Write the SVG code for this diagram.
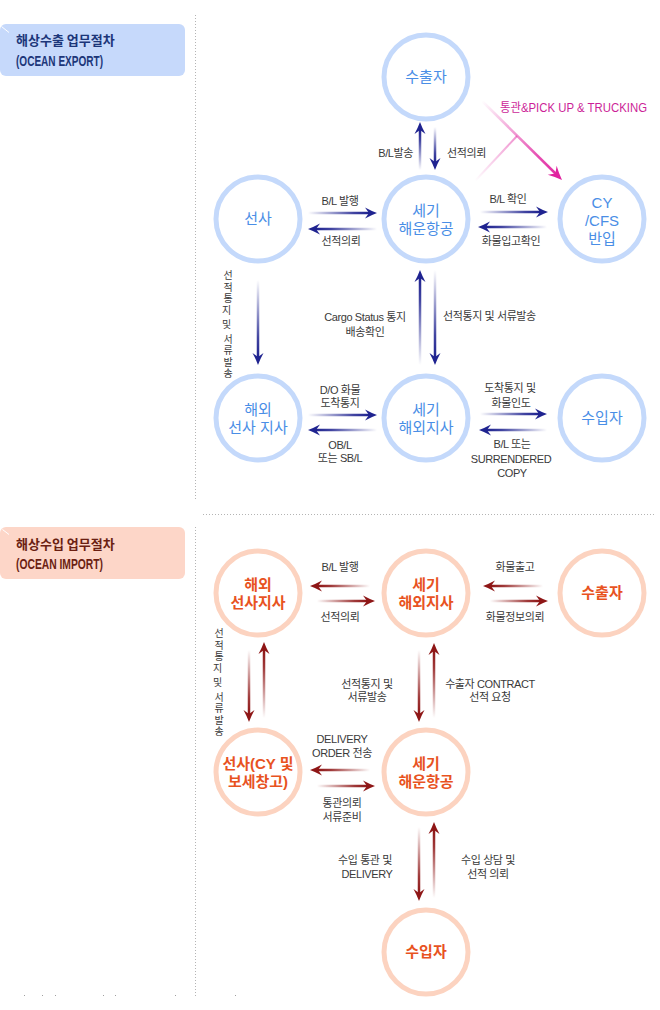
<svg xmlns="http://www.w3.org/2000/svg" xmlns:xlink="http://www.w3.org/1999/xlink" width="660" height="1010" viewBox="0 0 660 1010">
<style>
.ring{fill:#fff;stroke-width:5}
.ex .ring{stroke:#c4d9fb}
.im .ring{stroke:#fcd3c0}
.nt{font-family:"Liberation Sans","Noto Sans CJK KR",sans-serif;font-size:15px;text-anchor:middle}
.ex .nt{fill:#4a8ee6}
.im .nt{fill:#e8531f;font-weight:bold}
.lb{font-family:"Liberation Sans","Noto Sans CJK KR",sans-serif;font-size:11px;fill:#3a3a3a;letter-spacing:-0.4px}
.c{text-anchor:middle}
.e{text-anchor:end}
.vt{font-family:"Liberation Sans","Noto Sans CJK KR",sans-serif;font-size:10px;fill:#3a3a3a;text-anchor:middle}
.hd1{font-family:"Noto Sans CJK KR",sans-serif;font-size:13px;font-weight:bold}
.hd2{font-family:"Liberation Sans",sans-serif;font-size:14px;font-weight:bold}
.dot{stroke:#b4b4b4;stroke-width:1;stroke-dasharray:1 2;fill:none}
.nav{fill:#1f2390}
.red{fill:#8e1616}
</style>
<defs>
<path id="ah" d="M0,0 Q-6,-2.2 -12,-5.5 L-8,0 L-12,5.5 Q-6,2.2 0,0 Z"/>
<linearGradient id="bR" x1="0" y1="0" x2="1" y2="0"><stop offset="0" stop-color="#1f2390" stop-opacity="0"/><stop offset="0.75" stop-color="#1f2390" stop-opacity="0.85"/><stop offset="1" stop-color="#1f2390"/></linearGradient>
<linearGradient id="bL" x1="1" y1="0" x2="0" y2="0"><stop offset="0" stop-color="#1f2390" stop-opacity="0"/><stop offset="0.75" stop-color="#1f2390" stop-opacity="0.85"/><stop offset="1" stop-color="#1f2390"/></linearGradient>
<linearGradient id="bD" x1="0" y1="0" x2="0" y2="1"><stop offset="0" stop-color="#1f2390" stop-opacity="0"/><stop offset="0.75" stop-color="#1f2390" stop-opacity="0.85"/><stop offset="1" stop-color="#1f2390"/></linearGradient>
<linearGradient id="bU" x1="0" y1="1" x2="0" y2="0"><stop offset="0" stop-color="#1f2390" stop-opacity="0"/><stop offset="0.75" stop-color="#1f2390" stop-opacity="0.85"/><stop offset="1" stop-color="#1f2390"/></linearGradient>
<linearGradient id="rR" x1="0" y1="0" x2="1" y2="0"><stop offset="0" stop-color="#8e1616" stop-opacity="0"/><stop offset="0.75" stop-color="#8e1616" stop-opacity="0.85"/><stop offset="1" stop-color="#8e1616"/></linearGradient>
<linearGradient id="rL" x1="1" y1="0" x2="0" y2="0"><stop offset="0" stop-color="#8e1616" stop-opacity="0"/><stop offset="0.75" stop-color="#8e1616" stop-opacity="0.85"/><stop offset="1" stop-color="#8e1616"/></linearGradient>
<linearGradient id="rD" x1="0" y1="0" x2="0" y2="1"><stop offset="0" stop-color="#8e1616" stop-opacity="0"/><stop offset="0.75" stop-color="#8e1616" stop-opacity="0.85"/><stop offset="1" stop-color="#8e1616"/></linearGradient>
<linearGradient id="rU" x1="0" y1="1" x2="0" y2="0"><stop offset="0" stop-color="#8e1616" stop-opacity="0"/><stop offset="0.75" stop-color="#8e1616" stop-opacity="0.85"/><stop offset="1" stop-color="#8e1616"/></linearGradient>
<linearGradient id="mg" gradientUnits="userSpaceOnUse" x1="482" y1="101" x2="562" y2="180"><stop offset="0" stop-color="#e0239f" stop-opacity="0"/><stop offset="0.7" stop-color="#e0239f" stop-opacity="0.8"/><stop offset="1" stop-color="#e0239f"/></linearGradient>
<linearGradient id="mg2" gradientUnits="userSpaceOnUse" x1="517" y1="136" x2="475" y2="181"><stop offset="0" stop-color="#e0239f" stop-opacity="0.5"/><stop offset="1" stop-color="#e0239f" stop-opacity="0"/></linearGradient>
</defs>

<g id="frame">
<line class="dot" x1="195.5" y1="15" x2="195.5" y2="500"/>
<line class="dot" x1="203" y1="514.5" x2="656" y2="514.5"/>
<line class="dot" x1="195.5" y1="527" x2="195.5" y2="997"/>
<g fill="#a0a0a0"><rect x="24" y="995" width="1" height="1"/><rect x="42" y="995" width="1" height="1"/><rect x="55" y="995" width="1" height="1"/><rect x="103" y="995" width="1" height="1"/><rect x="115" y="995" width="1" height="1"/><rect x="175" y="995" width="1" height="1"/><rect x="235" y="995" width="1" height="1"/></g>
</g>

<g id="header-export">
<rect x="0" y="24" width="185" height="52" rx="6" fill="#c6d9fb"/>
<line x1="1.5" y1="26.5" x2="9" y2="32.5" stroke="#fff" stroke-width="1"/>
<text class="hd1" x="16" y="45" fill="#1c3679">해상수출 업무절차</text>
<text class="hd2" x="16" y="66" fill="#1c3679" textLength="87" lengthAdjust="spacingAndGlyphs">(OCEAN EXPORT)</text>
</g>
<g id="header-import">
<rect x="0" y="527" width="185" height="52" rx="6" fill="#fdd6c8"/>
<line x1="2.5" y1="529.5" x2="9" y2="534.5" stroke="#fff" stroke-width="1"/>
<text class="hd1" x="16" y="549" fill="#6b1f12">해상수입 업무절차</text>
<text class="hd2" x="16" y="569" fill="#6b1f12" textLength="87" lengthAdjust="spacingAndGlyphs">(OCEAN IMPORT)</text>
</g>

<g id="connectors">
<g class="nav">
<rect x="418.75" y="130" width="2.5" height="40" fill="url(#bU)"/><use xlink:href="#ah" transform="translate(420,122) rotate(-90)"/>
<rect x="433.75" y="127" width="2.5" height="35" fill="url(#bD)"/><use xlink:href="#ah" transform="translate(435,170) rotate(90)"/>
<rect x="308" y="211.75" width="61" height="2.5" fill="url(#bR)"/><use xlink:href="#ah" transform="translate(377,213)"/>
<rect x="316" y="227.75" width="61" height="2.5" fill="url(#bL)"/><use xlink:href="#ah" transform="translate(308,229) rotate(180)"/>
<rect x="480" y="210.75" width="60" height="2.5" fill="url(#bR)"/><use xlink:href="#ah" transform="translate(548,212)"/>
<rect x="486" y="225.75" width="61" height="2.5" fill="url(#bL)"/><use xlink:href="#ah" transform="translate(478,227) rotate(180)"/>
<rect x="256.75" y="280" width="2.5" height="77" fill="url(#bD)"/><use xlink:href="#ah" transform="translate(258,365) rotate(90)"/>
<rect x="418.75" y="278" width="2.5" height="87" fill="url(#bU)"/><use xlink:href="#ah" transform="translate(420,270) rotate(-90)"/>
<rect x="433.75" y="270" width="2.5" height="87" fill="url(#bD)"/><use xlink:href="#ah" transform="translate(435,365) rotate(90)"/>
<rect x="308" y="413.75" width="61" height="2.5" fill="url(#bR)"/><use xlink:href="#ah" transform="translate(377,415)"/>
<rect x="316" y="428.75" width="61" height="2.5" fill="url(#bL)"/><use xlink:href="#ah" transform="translate(308,430) rotate(180)"/>
<rect x="480" y="412.75" width="59" height="2.5" fill="url(#bR)"/><use xlink:href="#ah" transform="translate(547,414)"/>
<rect x="487" y="428.75" width="60" height="2.5" fill="url(#bL)"/><use xlink:href="#ah" transform="translate(479,430) rotate(180)"/>
</g>
<g>
<line x1="482" y1="101" x2="556.5" y2="174.5" stroke="url(#mg)" stroke-width="2.5"/>
<line x1="517" y1="136" x2="475" y2="181" stroke="url(#mg2)" stroke-width="2"/>
<use xlink:href="#ah" fill="#e0239f" transform="translate(562,180) rotate(44.6) scale(1.15)"/>
</g>
<g class="red">
<rect x="318" y="584.75" width="52" height="2.5" fill="url(#rL)"/><use xlink:href="#ah" transform="translate(310,586) rotate(180)"/>
<rect x="317" y="599.75" width="50" height="2.5" fill="url(#rR)"/><use xlink:href="#ah" transform="translate(375,601)"/>
<rect x="491" y="584.75" width="52" height="2.5" fill="url(#rL)"/><use xlink:href="#ah" transform="translate(483,586) rotate(180)"/>
<rect x="490" y="599.75" width="50" height="2.5" fill="url(#rR)"/><use xlink:href="#ah" transform="translate(548,601)"/>
<rect x="247.75" y="650" width="2.5" height="64" fill="url(#rD)"/><use xlink:href="#ah" transform="translate(249,722) rotate(90)"/>
<rect x="262.75" y="650" width="2.5" height="68" fill="url(#rU)"/><use xlink:href="#ah" transform="translate(264,642) rotate(-90)"/>
<rect x="417.75" y="650" width="2.5" height="64" fill="url(#rD)"/><use xlink:href="#ah" transform="translate(419,722) rotate(90)"/>
<rect x="432.75" y="651" width="2.5" height="67" fill="url(#rU)"/><use xlink:href="#ah" transform="translate(434,643) rotate(-90)"/>
<rect x="318" y="768.75" width="52" height="2.5" fill="url(#rL)"/><use xlink:href="#ah" transform="translate(310,770) rotate(180)"/>
<rect x="317" y="784.75" width="50" height="2.5" fill="url(#rR)"/><use xlink:href="#ah" transform="translate(375,786)"/>
<rect x="417.75" y="827" width="2.5" height="66" fill="url(#rD)"/><use xlink:href="#ah" transform="translate(419,901) rotate(90)"/>
<rect x="432.75" y="830" width="2.5" height="68" fill="url(#rU)"/><use xlink:href="#ah" transform="translate(434,822) rotate(-90)"/>
</g>
</g>

<g id="labels">
<text class="lb e" x="413" y="157">B/L발송</text>
<text class="lb" x="447" y="157">선적의뢰</text>
<text class="lb c" x="340" y="205">B/L 발행</text>
<text class="lb c" x="341" y="245">선적의뢰</text>
<text class="lb c" x="508" y="203">B/L 확인</text>
<text class="lb c" x="511" y="245">화물입고확인</text>
<text x="500" y="112" font-family="Liberation Sans, Noto Sans CJK KR, sans-serif" font-size="12" fill="#cc1f98" textLength="147" lengthAdjust="spacingAndGlyphs">통관&amp;PICK UP &amp; TRUCKING</text>
<text class="vt"><tspan x="228" y="279">선</tspan><tspan x="228" y="290.5">적</tspan><tspan x="228" y="302">통</tspan><tspan x="228" y="313.5">지</tspan><tspan> </tspan><tspan x="228" y="328">및</tspan><tspan> </tspan><tspan x="228" y="342.5">서</tspan><tspan x="228" y="354">류</tspan><tspan x="228" y="365.5">발</tspan><tspan x="228" y="377">송</tspan></text>
<text class="lb c" x="365" y="321">Cargo Status 통지</text>
<text class="lb c" x="365" y="336">배송확인</text>
<text class="lb" x="443" y="320">선적통지 및 서류발송</text>
<text class="lb c" x="340" y="394">D/O 화물</text>
<text class="lb c" x="340" y="407">도착통지</text>
<text class="lb c" x="340" y="449">OB/L</text>
<text class="lb c" x="340" y="462">또는 SB/L</text>
<text class="lb c" x="510" y="392">도착통지 및</text>
<text class="lb c" x="511" y="407">화물인도</text>
<text class="lb c" x="512" y="448">B/L 또는</text>
<text class="lb c" x="511" y="463">SURRENDERED</text>
<text class="lb c" x="512" y="477">COPY</text>

<text class="lb c" x="340" y="571">B/L 발행</text>
<text class="lb c" x="340" y="621">선적의뢰</text>
<text class="lb c" x="515" y="571">화물출고</text>
<text class="lb c" x="515" y="621">화물정보의뢰</text>
<text class="vt"><tspan x="219" y="637">선</tspan><tspan x="219" y="648.5">적</tspan><tspan x="219" y="660">통</tspan><tspan x="219" y="671.5">지</tspan><tspan> </tspan><tspan x="219" y="686">및</tspan><tspan> </tspan><tspan x="219" y="700.5">서</tspan><tspan x="219" y="712">류</tspan><tspan x="219" y="723.5">발</tspan><tspan x="219" y="735">송</tspan></text>
<text class="lb c" x="367" y="688">선적통지 및</text>
<text class="lb c" x="367" y="701">서류발송</text>
<text class="lb c" x="490" y="688">수출자 CONTRACT</text>
<text class="lb c" x="490" y="701">선적 요청</text>
<text class="lb c" x="342" y="743">DELIVERY</text>
<text class="lb c" x="342" y="757">ORDER 전송</text>
<text class="lb c" x="342" y="807">통관의뢰</text>
<text class="lb c" x="342" y="821">서류준비</text>
<text class="lb c" x="365" y="864">수입 통관 및</text>
<text class="lb c" x="367" y="878">DELIVERY</text>
<text class="lb c" x="488" y="864">수입 상담 및</text>
<text class="lb c" x="488" y="878">선적 의뢰</text>
</g>

<g id="ex-shipper" class="ex"><circle class="ring" cx="426" cy="77" r="42"/><text class="nt" x="426" y="82">수출자</text></g>
<g id="ex-carrier" class="ex"><circle class="ring" cx="258" cy="219" r="42"/><text class="nt" x="258" y="224">선사</text></g>
<g id="ex-segi-shipping" class="ex"><circle class="ring" cx="426" cy="219" r="42"/><text class="nt" x="426" y="216">세기</text><text class="nt" x="426" y="234">해운항공</text></g>
<g id="ex-cy-cfs" class="ex"><circle class="ring" cx="602" cy="219" r="42"/><text class="nt" x="602" y="208" font-size="16">CY</text><text class="nt" x="602" y="226" font-size="16">/CFS</text><text class="nt" x="602" y="244">반입</text></g>
<g id="ex-carrier-branch" class="ex"><circle class="ring" cx="258" cy="418" r="42"/><text class="nt" x="258" y="415">해외</text><text class="nt" x="258" y="433">선사 지사</text></g>
<g id="ex-segi-branch" class="ex"><circle class="ring" cx="426" cy="418" r="42"/><text class="nt" x="426" y="415">세기</text><text class="nt" x="426" y="433">해외지사</text></g>
<g id="ex-consignee" class="ex"><circle class="ring" cx="602" cy="418" r="42"/><text class="nt" x="602" y="423">수입자</text></g>

<g id="im-carrier-branch" class="im"><circle class="ring" cx="258" cy="593" r="42"/><text class="nt" x="258" y="590">해외</text><text class="nt" x="258" y="608">선사지사</text></g>
<g id="im-segi-branch" class="im"><circle class="ring" cx="426" cy="593" r="42"/><text class="nt" x="426" y="590">세기</text><text class="nt" x="426" y="608">해외지사</text></g>
<g id="im-shipper" class="im"><circle class="ring" cx="602" cy="593" r="42"/><text class="nt" x="602" y="598">수출자</text></g>
<g id="im-carrier" class="im"><circle class="ring" cx="258" cy="772" r="42"/><text class="nt" x="258" y="769">선사(CY 및</text><text class="nt" x="258" y="787">보세창고)</text></g>
<g id="im-segi-shipping" class="im"><circle class="ring" cx="426" cy="772" r="42"/><text class="nt" x="426" y="769">세기</text><text class="nt" x="426" y="787">해운항공</text></g>
<g id="im-consignee" class="im"><circle class="ring" cx="426" cy="952" r="42"/><text class="nt" x="426" y="957">수입자</text></g>
</svg>
